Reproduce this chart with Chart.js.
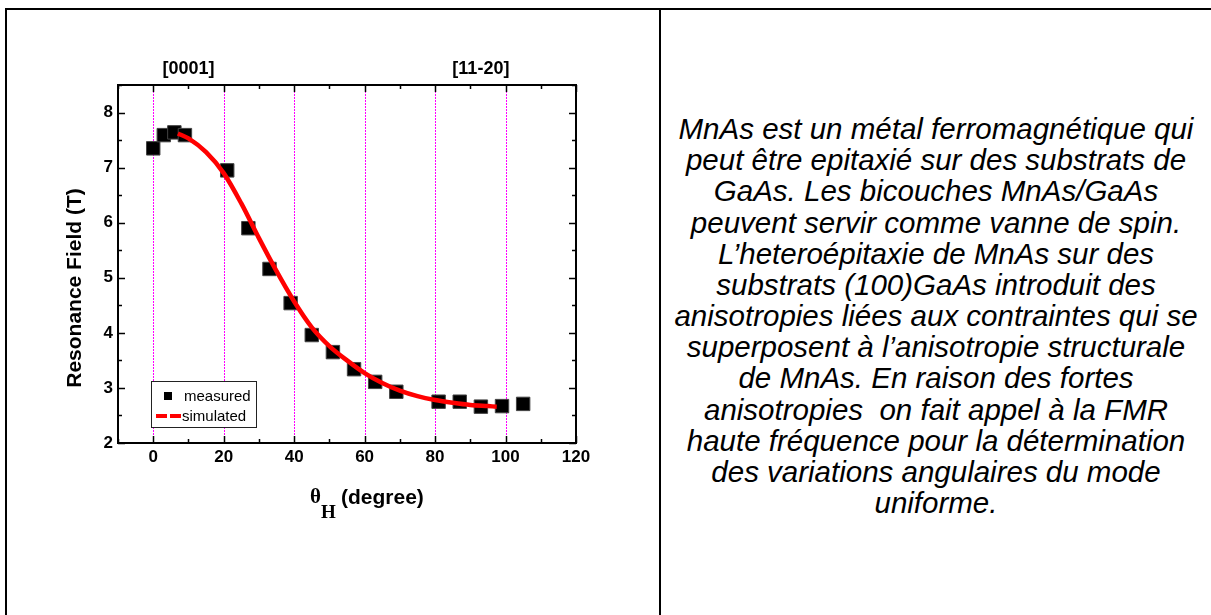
<!DOCTYPE html>
<html>
<head>
<meta charset="utf-8">
<script src="https://cdn.jsdelivr.net/npm/chart.js@4.4.1/dist/chart.umd.min.js"></script>
<style>
body { margin: 0; background: #fff; width: 1211px; height: 615px; overflow: hidden; position: relative; font-family: "Liberation Sans", Arial, sans-serif; }
#c { position: absolute; left: 0; top: 0; }
.rule { position: absolute; background: #000; }
#txt { position: absolute; left: 661px; top: 113px; width: 550px; text-align: center; font-style: italic; font-size: 29.5px; line-height: 31.17px; white-space: nowrap; color: #000; }
</style>
</head>
<body>
<canvas id="c" width="659" height="615"></canvas>
<div class="rule" style="left:5px;top:8px;width:1206px;height:2px"></div>
<div class="rule" style="left:5px;top:8px;width:2px;height:607px"></div>
<div class="rule" style="left:659px;top:8px;width:2px;height:607px"></div>
<div id="txt">MnAs est un métal ferromagnétique qui<br>peut être epitaxié sur des substrats de<br>GaAs. Les bicouches MnAs/GaAs<br>peuvent servir comme vanne de spin.<br>L’heteroépitaxie de MnAs sur des<br>substrats (100)GaAs introduit des<br>anisotropies liées aux contraintes qui se<br>superposent à l’anisotropie structurale<br>de MnAs. En raison des fortes<br>anisotropies&nbsp; on fait appel à la FMR<br>haute fréquence pour la détermination<br>des variations angulaires du mode<br>uniforme.</div>
<script>
// measured resonance field vs angle
var measuredX = [0, 3, 6, 9, 21, 27, 33, 39, 45, 51, 57, 63, 69, 81, 87, 93, 99, 105];
var measuredY = [7.35, 7.59, 7.64, 7.59, 6.95, 5.90, 5.16, 4.54, 3.96, 3.65, 3.34, 3.11, 2.93, 2.75, 2.75, 2.66, 2.67, 2.71];

// simulated curve
var simulatedX = [7, 10, 15, 20, 25, 30, 35, 40, 45, 50, 55, 60, 65, 70, 75, 80, 85, 90, 95, 97.5];
var simulatedY = [7.62, 7.53, 7.28, 6.90, 6.35, 5.72, 5.12, 4.57, 4.10, 3.76, 3.50, 3.27, 3.09, 2.95, 2.85, 2.78, 2.73, 2.69, 2.67, 2.66];

var xTickLabels = [0, 20, 40, 60, 80, 100, 120];
var yTickLabels = [2, 3, 4, 5, 6, 7, 8];
var gridAngles = [0, 20, 40, 60, 80, 100];
var directionLabels = ["[0001]", "[11-20]"];
var directionAngles = [10, 93];
var seriesNames = ["measured", "simulated"];

var SANS = '"Liberation Sans", Arial, sans-serif';
var SERIF = '"Liberation Serif", "Times New Roman", serif';

function toPoints(xs, ys) {
    return xs.map(function (x, i) { return { x: x, y: ys[i] }; });
}

var framePlugin = {
    id: 'frame',
    beforeDatasetsDraw: function (chart) {
        var ctx = chart.ctx, a = chart.chartArea, xs = chart.scales.x;
        ctx.save();
        ctx.strokeStyle = '#ff00ff';
        ctx.lineWidth = 1;
        ctx.setLineDash([2, 1]);
        gridAngles.forEach(function (v) {
            var px = Math.round(xs.getPixelForValue(v)) + 0.5;
            ctx.beginPath();
            ctx.moveTo(px, a.top);
            ctx.lineTo(px, a.bottom);
            ctx.stroke();
        });
        ctx.restore();
    },
    afterDatasetsDraw: function (chart) {
        var ctx = chart.ctx, a = chart.chartArea, xs = chart.scales.x, ys = chart.scales.y;
        ctx.save();
        ctx.strokeStyle = '#000';
        ctx.lineWidth = 1.5;
        // inward ticks on all four sides
        for (var v = -10; v <= 120; v += 10) {
            var px = Math.round(xs.getPixelForValue(v)) + 0.5;
            var len = (v % 20 === 0) ? 7 : 4;
            ctx.beginPath();
            ctx.moveTo(px, a.bottom); ctx.lineTo(px, a.bottom - len);
            ctx.moveTo(px, a.top); ctx.lineTo(px, a.top + len);
            ctx.stroke();
        }
        for (var w = 2; w <= 8.5; w += 0.5) {
            var py = Math.round(ys.getPixelForValue(w)) + 0.5;
            var l2 = (w % 1 === 0) ? 7 : 4;
            ctx.beginPath();
            ctx.moveTo(a.left, py); ctx.lineTo(a.left + l2, py);
            ctx.moveTo(a.right, py); ctx.lineTo(a.right - l2, py);
            ctx.stroke();
        }
        ctx.lineWidth = 2;
        ctx.strokeRect(a.left, a.top, a.right - a.left, a.bottom - a.top);

        // legend box
        ctx.fillStyle = '#fff';
        ctx.fillRect(152, 382, 105, 45);
        ctx.lineWidth = 1;
        ctx.strokeStyle = '#222';
        ctx.strokeRect(151.5, 381.5, 105, 46);
        ctx.fillStyle = '#000';
        ctx.fillRect(164, 392, 8, 8);
        ctx.strokeStyle = '#f00';
        ctx.lineWidth = 4;
        ctx.setLineDash([11, 3]);
        ctx.beginPath();
        ctx.moveTo(156, 416); ctx.lineTo(181, 416);
        ctx.stroke();
        ctx.setLineDash([]);
        ctx.fillStyle = '#000';
        ctx.font = '15px ' + SANS;
        ctx.textAlign = 'left';
        ctx.textBaseline = 'alphabetic';
        ctx.fillText(seriesNames[0], 184, 401);
        ctx.fillText(seriesNames[1], 182, 421);
        ctx.restore();
    },
    afterDraw: function (chart) {
        var ctx = chart.ctx, xs = chart.scales.x;
        ctx.save();
        ctx.fillStyle = '#000';
        ctx.textBaseline = 'alphabetic';
        // crystal directions above the frame
        ctx.font = 'bold 18px ' + SANS;
        ctx.textAlign = 'center';
        directionLabels.forEach(function (t, i) {
            ctx.fillText(t, xs.getPixelForValue(directionAngles[i]), 74);
        });
        // y title
        ctx.save();
        ctx.translate(81, 288);
        ctx.rotate(-Math.PI / 2);
        ctx.font = 'bold 21px ' + SANS;
        ctx.fillText('Resonance Field (T)', 0, 0);
        ctx.restore();
        // x title: theta_H (degree)
        ctx.textAlign = 'left';
        ctx.font = 'bold 21px ' + SERIF;
        ctx.fillText('θ', 310, 503);
        ctx.font = 'bold 19px ' + SERIF;
        ctx.fillText('H', 321, 518);
        ctx.font = 'bold 21px ' + SANS;
        ctx.fillText('(degree)', 341, 504);
        ctx.restore();
    }
};

new Chart(document.getElementById('c'), {
    type: 'scatter',
    data: {
        datasets: [{
            label: seriesNames[1],
            type: 'line',
            data: toPoints(simulatedX, simulatedY),
            borderColor: '#ff0000',
            borderWidth: 4.5,
            pointRadius: 0,
            fill: false,
            cubicInterpolationMode: 'monotone',
            order: 1
        }, {
            label: seriesNames[0],
            data: toPoints(measuredX, measuredY),
            pointStyle: 'rect',
            pointRadius: 9.5,
            backgroundColor: '#000',
            borderColor: '#444',
            borderWidth: 1,
            order: 2
        }]
    },
    options: {
        responsive: false,
        animation: false,
        devicePixelRatio: 1,
        layout: { padding: { left: 0, top: 85, right: 83, bottom: 0 } },
        plugins: { legend: { display: false }, tooltip: { enabled: false } },
        scales: {
            x: {
                type: 'linear',
                min: -10,
                max: 120,
                grid: { display: false, drawTicks: false },
                border: { display: false },
                afterBuildTicks: function (s) { s.ticks = xTickLabels.map(function (v) { return { value: v }; }); },
                afterFit: function (s) { s.height = 172; },
                ticks: { autoSkip: false, maxRotation: 0, padding: 4, color: '#000', font: { family: SANS, size: 17, weight: 'bold' } }
            },
            y: {
                type: 'linear',
                min: 2,
                max: 8.5,
                grid: { display: false, drawTicks: false },
                border: { display: false },
                afterBuildTicks: function (s) { s.ticks = yTickLabels.map(function (v) { return { value: v }; }); },
                afterFit: function (s) { s.width = 118; },
                ticks: { autoSkip: false, padding: 5, color: '#000', font: { family: SANS, size: 17, weight: 'bold' } }
            }
        }
    },
    plugins: [framePlugin]
});
</script>
</body>
</html>
